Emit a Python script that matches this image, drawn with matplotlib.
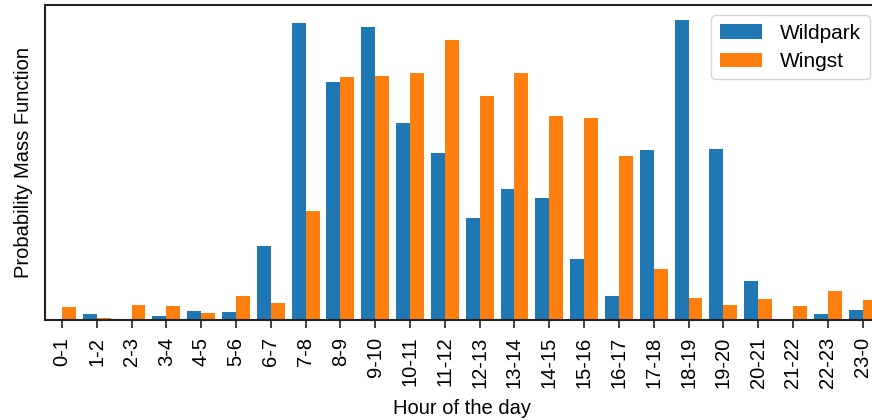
import numpy as np
import matplotlib
matplotlib.use('Agg')
import matplotlib.pyplot as plt

# Hourly probability mass for the two sites
hours = ['0-1', '1-2', '2-3', '3-4', '4-5', '5-6', '6-7', '7-8', '8-9', '9-10',
         '10-11', '11-12', '12-13', '13-14', '14-15', '15-16', '16-17', '17-18',
         '18-19', '19-20', '20-21', '21-22', '22-23', '23-0']
wildpark = [0.0, 0.0025, 0.0, 0.0016, 0.0037, 0.0033, 0.0305, 0.1223, 0.0980, 0.1206,
            0.0811, 0.0688, 0.0420, 0.0539, 0.0502, 0.0251, 0.0099, 0.0700,
            0.1235, 0.0704, 0.0161, 0.0, 0.0025, 0.0041]
wingst = [0.0054, 0.0008, 0.0062, 0.0058, 0.0029, 0.0099, 0.0070, 0.0449, 0.1000, 0.1005,
          0.1017, 0.1153, 0.0922, 0.1017, 0.0840, 0.0832, 0.0675, 0.0210,
          0.0091, 0.0062, 0.0086, 0.0058, 0.0119, 0.0082]

plt.rcParams['font.family'] = ['Liberation Sans', 'DejaVu Sans']
plt.rcParams['font.size'] = 14.5

fig = plt.figure(figsize=(8.72, 4.2), dpi=100)
ax = fig.add_axes([44.5 / 872, 1 - 320 / 420, (880 - 44.5) / 872, 315 / 420])

x = np.arange(len(hours))
width = 0.4
ax.bar(x - width / 2, wildpark, width, color='#1f77b4', label='Wildpark')
ax.bar(x + width / 2, wingst, width, color='#ff7f0e', label='Wingst')

ax.set_xlim(-0.5, len(hours) - 0.5)
ax.set_xticks(x)
ax.set_xticklabels(hours, rotation=90)
ax.set_yticks([])
ax.tick_params(axis='x', length=5.5, width=1.2, color='#222222', pad=6.5)
for spine in ax.spines.values():
    spine.set_linewidth(1.5)
    spine.set_color('#222222')

ax.set_xlabel('Hour of the day', labelpad=8)
ax.set_ylabel('Probability Mass Function', labelpad=8)
ax.legend(loc='upper right', fontsize=15, borderpad=0.4, handlelength=2.05,
          handletextpad=0.85, labelspacing=0.45, borderaxespad=0.5)

plt.savefig('out.png', dpi=100)
